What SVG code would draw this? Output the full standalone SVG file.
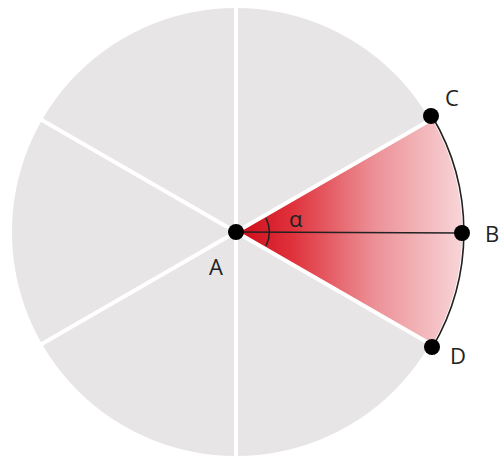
<svg xmlns="http://www.w3.org/2000/svg" width="499" height="457" viewBox="0 0 499 457">
<style>
.lbl{font-family:"Open Sans","DejaVu Sans",sans-serif;font-size:22px;fill:#222}
.div{stroke:#fff;stroke-width:4}
.dot{fill:#000}
</style>
<defs>
<linearGradient id="rg" gradientUnits="userSpaceOnUse" x1="236" y1="0" x2="462" y2="0">
<stop offset="0" stop-color="#cc0a16"/>
<stop offset="0.25" stop-color="#e0323c"/>
<stop offset="0.6" stop-color="#eb8e94"/>
<stop offset="1" stop-color="#f8d5d8"/>
</linearGradient>
</defs>
<rect width="499" height="457" fill="#fff"/>
<g id="disc">
<circle cx="236" cy="232" r="224" fill="#e7e5e6"/>
<path d="M236 232 L432 119 A226 226 0 0 1 432 345 Z" fill="url(#rg)"/>
<line class="div" x1="236" y1="232" x2="236" y2="457"/>
<line class="div" x1="236" y1="232" x2="236" y2="0"/>
<line class="div" x1="236" y1="232" x2="40" y2="119"/>
<line class="div" x1="236" y1="232" x2="40" y2="345"/>
<line class="div" x1="236" y1="232" x2="432" y2="119"/>
<line class="div" x1="236" y1="232" x2="432" y2="345"/>
</g>
<g id="connectors" fill="none" stroke="#222">
<path d="M432 116 A227 227 0 0 1 432 348" stroke-width="1.6"/>
<line x1="236" y1="232" x2="462" y2="233" stroke-width="1.6"/>
<path d="M266 218 A32 32 0 0 1 266 246" stroke-width="1.6"/>
</g>
<g id="A"><circle class="dot" cx="236" cy="232" r="8"/><text class="lbl" x="209" y="275">A</text></g>
<g id="B"><circle class="dot" cx="462" cy="233" r="8"/><text class="lbl" x="485" y="242">B</text></g>
<g id="C"><circle class="dot" cx="431" cy="116" r="8"/><text class="lbl" x="445" y="106">C</text></g>
<g id="D"><circle class="dot" cx="432" cy="347" r="8"/><text class="lbl" x="450" y="364">D</text></g>
<g id="alpha"><text class="lbl" x="289" y="227">α</text></g>
</svg>
